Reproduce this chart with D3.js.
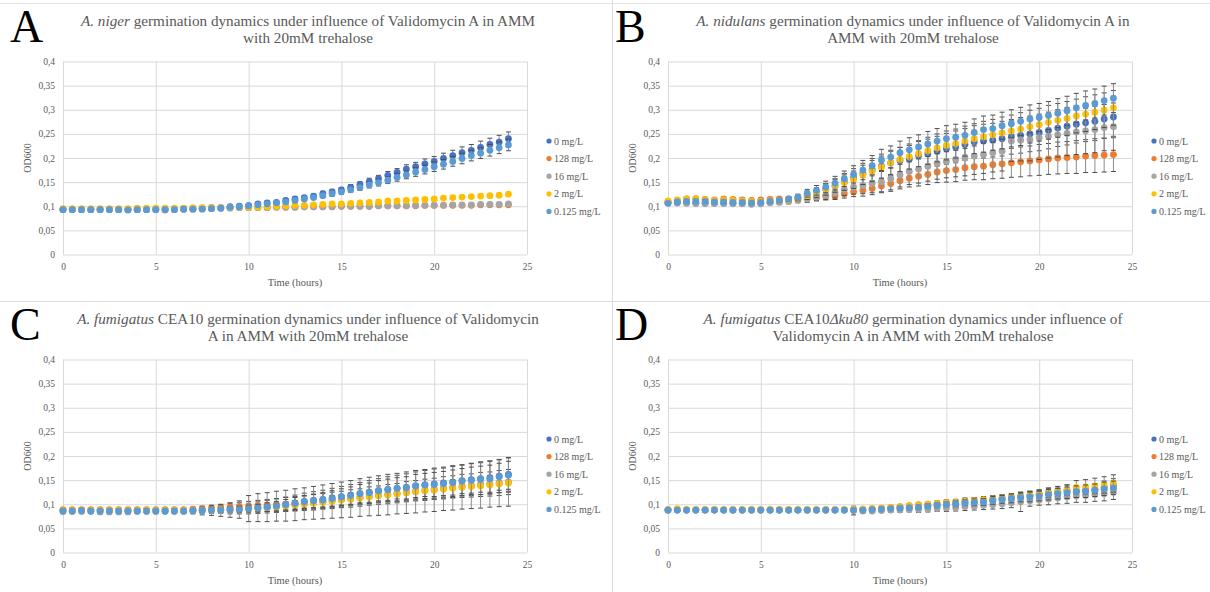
<!DOCTYPE html>
<html>
<head>
<meta charset="utf-8">
<script src="https://cdnjs.cloudflare.com/ajax/libs/d3/7.8.5/d3.min.js"></script>
<style>
body { margin: 0; background: #fff; }
svg text { font-family: "Liberation Serif", "Times New Roman", serif; }
.grid line { stroke: #d9d9d9; stroke-width: 1; }
.grid text { fill: #595959; font-size: 9.5px; }
.grid .domain { display: none; }
</style>
</head>
<body>
<script>
(function(){

//sampling times, hours
var hours = [0,0.5,1,1.5,2,2.5,3,3.5,4,4.5,5,5.5,6,6.5,7,7.5,8,8.5,9,9.5,
             10,10.5,11,11.5,12,12.5,13,13.5,14,14.5,15,15.5,16,16.5,17,17.5,18,18.5,19,19.5,
             20,20.5,21,21.5,22,22.5,23,23.5,24];
var doses = ["0 mg/L", "128 mg/L", "16 mg/L", "2 mg/L", "0.125 mg/L"];
var doseColors = ["#4472C4", "#ED7D31", "#A5A5A5", "#FFC000", "#5B9BD5"];
var yTicks = [0, 0.05, 0.1, 0.15, 0.2, 0.25, 0.3, 0.35, 0.4];
var xTicks = [0, 5, 10, 15, 20, 25];

//A. niger (order of doses)
var nigerMeans = [
 [.093,.093,.093,.093,.093,.094,.093,.093,.093,.093, .094,.094,.094,.095,.095,.096,.097,.097,.099,.100,
  .101,.105,.107,.108,.112,.115,.118,.121,.126,.130, .134,.139,.145,.151,.157,.164,.170,.177,.182,.188,
  .193,.199,.205,.211,.216,.222,.228,.233,.240],
 [.094,.094,.094,.094,.094,.094,.094,.094,.094,.094, .094,.092,.094,.094,.095,.095,.096,.096,.097,.097,
  .097,.097,.097,.098,.098,.098,.099,.099,.099,.099, .100,.100,.100,.100,.101,.101,.101,.101,.101,.102,
  .102,.102,.102,.102,.102,.103,.103,.103,.103],
 [.093,.093,.093,.093,.093,.093,.093,.093,.093,.093, .093,.093,.093,.094,.094,.095,.095,.096,.096,.097,
  .097,.097,.097,.098,.098,.098,.099,.099,.099,.099, .100,.100,.100,.100,.101,.101,.101,.101,.102,.102,
  .102,.102,.103,.103,.103,.104,.104,.104,.105],
 [.095,.095,.095,.095,.095,.095,.095,.095,.096,.096, .096,.096,.096,.096,.097,.097,.097,.097,.098,.098,
  .098,.098,.099,.100,.101,.102,.102,.103,.104,.105, .105,.106,.107,.108,.109,.111,.111,.112,.113,.114,
  .115,.117,.118,.119,.120,.121,.122,.123,.125],
 [.093,.093,.093,.093,.093,.093,.093,.092,.093,.093, .093,.093,.093,.094,.094,.094,.095,.096,.098,.099,
  .101,.103,.105,.107,.109,.112,.115,.118,.122,.126, .130,.134,.139,.144,.149,.154,.160,.165,.171,.176,
  .182,.187,.193,.199,.205,.210,.216,.221,.227]
];
var nigerErrors = [
 [.002,.002,.002,.002,.002,.002,.002,.002,.002,.002, .002,.002,.002,.002,.002,.002,.002,.002,.002,.002,
  .003,.003,.003,.003,.004,.004,.004,.004,.005,.005, .005,.006,.006,.007,.007,.008,.008,.009,.009,.010,
  .010,.011,.011,.012,.012,.013,.013,.014,.014],
 [.002,.002,.002,.002,.002,.002,.002,.002,.002,.002, .002,.002,.002,.002,.002,.002,.002,.002,.002,.002,
  .002,.002,.002,.002,.002,.002,.002,.002,.002,.002, .002,.002,.002,.002,.002,.002,.002,.002,.002,.002,
  .002,.002,.002,.002,.002,.002,.002,.002,.002],
 [.002,.002,.002,.002,.002,.002,.002,.002,.002,.002, .002,.002,.002,.002,.002,.002,.002,.002,.002,.002,
  .002,.002,.002,.002,.002,.002,.002,.002,.002,.002, .002,.002,.002,.002,.002,.002,.002,.002,.002,.002,
  .002,.002,.002,.002,.002,.002,.002,.002,.002],
 [.002,.002,.002,.002,.002,.002,.002,.002,.002,.002, .002,.002,.002,.002,.002,.002,.002,.002,.002,.002,
  .002,.002,.002,.002,.002,.002,.002,.002,.002,.002, .003,.003,.003,.003,.003,.003,.003,.003,.003,.003,
  .003,.003,.003,.003,.003,.003,.003,.003,.003],
 [.002,.002,.002,.002,.002,.002,.002,.002,.002,.002, .002,.002,.002,.002,.002,.002,.002,.002,.002,.002,
  .003,.003,.003,.003,.003,.004,.004,.004,.004,.005, .005,.005,.006,.006,.007,.007,.008,.008,.009,.009,
  .010,.010,.010,.011,.011,.011,.012,.012,.012]
];

//A. nidulans
var nidulansMeans = [
 [.107,.107,.107,.106,.106,.106,.106,.106,.106,.105, .106,.108,.110,.113,.117,.122,.128,.135,.142,.151,
  .159,.168,.176,.183,.190,.195,.198,.205,.209,.214, .219,.223,.228,.233,.235,.237,.240,.244,.247,.250,
  .253,.257,.262,.266,.270,.273,.276,.281,.285],
 [.110,.112,.115,.116,.114,.113,.115,.114,.113,.112, .113,.114,.115,.115,.116,.117,.118,.120,.122,.126,
  .130,.133,.137,.142,.147,.153,.158,.162,.166,.171, .174,.176,.180,.182,.183,.186,.188,.190,.192,.194,
  .196,.198,.200,.201,.202,.204,.205,.206,.207],
 [.108,.107,.106,.106,.106,.106,.106,.105,.105,.104, .105,.107,.108,.110,.113,.115,.119,.123,.128,.135,
  .140,.143,.147,.151,.157,.165,.172,.177,.183,.189, .193,.197,.200,.204,.207,.211,.214,.235,.237,.238,
  .242,.245,.248,.251,.254,.256,.259,.263,.265],
 [.111,.113,.115,.115,.113,.112,.113,.112,.111,.110, .110,.111,.112,.114,.117,.122,.128,.135,.143,.149,
  .155,.165,.173,.181,.190,.197,.203,.209,.215,.221, .226,.230,.235,.240,.244,.248,.252,.256,.260,.265,
  .269,.274,.278,.282,.287,.291,.295,.299,.304],
 [.106,.109,.110,.110,.110,.109,.109,.108,.108,.107, .108,.110,.112,.115,.119,.127,.133,.140,.148,.157,
  .166,.175,.184,.196,.202,.211,.217,.223,.229,.235, .240,.243,.247,.253,.259,.261,.267,.271,.276,.281,
  .284,.288,.293,.298,.304,.309,.313,.319,.324]
];
var nidulansErrors = [
 [.003,.003,.003,.003,.003,.003,.003,.003,.003,.003, .003,.003,.004,.005,.006,.008,.010,.012,.014,.017,
  .019,.021,.023,.025,.026,.027,.028,.029,.030,.031, .032,.033,.033,.034,.035,.035,.036,.036,.037,.037,
  .038,.038,.038,.039,.039,.039,.040,.040,.040],
 [.004,.004,.004,.004,.004,.004,.004,.004,.004,.004, .004,.004,.004,.004,.005,.005,.006,.007,.008,.009,
  .010,.012,.013,.014,.016,.017,.018,.020,.021,.022, .024,.025,.026,.027,.028,.029,.030,.030,.031,.031,
  .032,.032,.033,.033,.034,.034,.035,.035,.035],
 [.003,.003,.003,.003,.003,.003,.003,.003,.003,.003, .003,.003,.004,.005,.006,.007,.008,.009,.011,.013,
  .015,.017,.019,.021,.023,.025,.027,.029,.031,.033, .034,.036,.037,.038,.039,.040,.041,.042,.043,.044,
  .045,.045,.046,.046,.047,.047,.048,.048,.049],
 [.003,.003,.003,.003,.003,.003,.003,.003,.003,.003, .003,.003,.004,.005,.006,.008,.010,.012,.014,.016,
  .018,.020,.022,.023,.024,.025,.026,.027,.028,.029, .030,.030,.031,.031,.032,.032,.033,.033,.034,.034,
  .034,.035,.035,.035,.035,.036,.036,.036,.036],
 [.003,.003,.003,.003,.003,.003,.003,.003,.003,.003, .003,.003,.004,.005,.006,.008,.010,.012,.014,.016,
  .018,.020,.021,.022,.023,.024,.025,.025,.026,.026, .027,.027,.027,.028,.028,.028,.028,.029,.029,.029,
  .029,.029,.030,.030,.030,.030,.030,.030,.030]
];

//A. fumigatus CEA10
var cea10Means = [
 [.087,.087,.087,.087,.087,.087,.087,.087,.087,.087, .087,.087,.087,.087,.087,.088,.088,.089,.089,.090,
  .091,.093,.095,.097,.100,.103,.106,.108,.110,.113, .116,.119,.122,.125,.128,.131,.133,.135,.138,.140,
  .142,.144,.146,.149,.151,.153,.155,.158,.162],
 [.089,.089,.089,.089,.089,.089,.089,.089,.089,.089, .089,.089,.089,.089,.090,.091,.092,.093,.094,.095,
  .096,.097,.098,.099,.100,.101,.102,.104,.106,.108, .110,.112,.114,.117,.119,.121,.123,.126,.128,.130,
  .132,.134,.136,.138,.139,.141,.142,.144,.146],
 [.085,.085,.085,.085,.084,.084,.084,.084,.085,.085, .085,.085,.085,.085,.086,.086,.087,.087,.088,.089,
  .091,.093,.094,.096,.097,.099,.101,.103,.105,.107, .109,.111,.114,.116,.118,.120,.122,.124,.126,.128,
  .130,.132,.134,.136,.138,.140,.142,.144,.146],
 [.088,.088,.088,.088,.088,.088,.088,.088,.088,.088, .088,.088,.088,.088,.088,.088,.088,.089,.089,.090,
  .090,.091,.092,.094,.096,.098,.100,.102,.104,.106, .109,.111,.113,.115,.118,.119,.121,.124,.126,.128,
  .129,.131,.133,.135,.137,.138,.140,.142,.144],
 [.086,.086,.087,.086,.086,.086,.086,.086,.086,.086, .086,.086,.086,.086,.087,.087,.088,.088,.089,.089,
  .091,.092,.094,.096,.099,.102,.105,.107,.109,.112, .115,.118,.122,.124,.128,.130,.133,.134,.138,.140,
  .141,.143,.145,.148,.150,.152,.153,.157,.160]
];
var cea10Errors = [
 [.004,.004,.004,.004,.004,.004,.004,.004,.004,.004, .004,.004,.004,.004,.005,.006,.007,.008,.009,.010,
  .011,.012,.013,.014,.015,.016,.017,.018,.019,.020, .021,.022,.023,.024,.025,.026,.027,.028,.029,.030,
  .031,.031,.032,.032,.033,.033,.034,.034,.035],
 [.003,.003,.003,.003,.003,.003,.003,.003,.003,.003, .003,.003,.003,.003,.004,.005,.006,.007,.008,.009,
  .010,.011,.012,.013,.014,.015,.015,.016,.016,.017, .017,.018,.018,.019,.019,.020,.020,.021,.021,.022,
  .022,.023,.023,.024,.024,.025,.025,.026,.026],
 [.004,.004,.004,.004,.004,.004,.004,.004,.004,.004, .004,.004,.004,.004,.006,.008,.010,.012,.015,.018,
  .027,.029,.030,.031,.032,.033,.033,.034,.035,.036, .037,.038,.039,.040,.041,.042,.042,.043,.044,.044,
  .045,.045,.046,.046,.047,.048,.048,.049,.050],
 [.003,.003,.003,.003,.003,.003,.003,.003,.003,.003, .003,.003,.003,.003,.003,.004,.004,.005,.005,.006,
  .006,.007,.007,.008,.008,.009,.009,.010,.010,.011, .011,.012,.012,.013,.013,.014,.014,.015,.015,.016,
  .016,.016,.017,.017,.017,.018,.018,.018,.019],
 [.003,.003,.003,.003,.003,.003,.003,.003,.003,.003, .003,.003,.003,.003,.003,.004,.004,.005,.005,.006,
  .007,.008,.009,.010,.011,.012,.013,.014,.015,.016, .017,.018,.019,.020,.021,.022,.022,.023,.024,.024,
  .025,.025,.026,.026,.027,.027,.028,.028,.029]
];

//A. fumigatus CEA10 delta ku80
var ku80Means = [
 [.088,.088,.088,.088,.088,.088,.088,.088,.088,.088, .088,.088,.088,.088,.088,.088,.088,.088,.088,.088,
  .088,.088,.089,.090,.091,.092,.093,.094,.096,.097, .099,.101,.103,.104,.106,.108,.110,.112,.115,.118,
  .121,.124,.127,.129,.128,.129,.131,.135,.140],
 [.089,.089,.089,.089,.089,.089,.089,.089,.089,.089, .089,.089,.089,.089,.089,.089,.089,.089,.089,.089,
  .089,.090,.091,.092,.093,.095,.097,.099,.100,.102, .104,.105,.107,.108,.110,.111,.113,.115,.117,.118,
  .120,.121,.123,.124,.125,.126,.128,.130,.132],
 [.088,.088,.088,.088,.088,.088,.088,.088,.088,.088, .088,.088,.088,.088,.088,.088,.088,.088,.088,.088,
  .087,.086,.086,.087,.088,.088,.089,.089,.090,.091, .092,.093,.095,.096,.098,.099,.101,.103,.105,.107,
  .109,.111,.113,.115,.117,.118,.120,.122,.125],
 [.089,.091,.089,.089,.089,.089,.089,.089,.089,.089, .089,.089,.089,.089,.089,.089,.089,.089,.089,.089,
  .090,.090,.091,.092,.094,.095,.097,.098,.100,.101, .103,.104,.106,.107,.109,.111,.113,.115,.117,.119,
  .121,.123,.126,.129,.135,.136,.138,.140,.143],
 [.088,.088,.088,.088,.088,.088,.088,.088,.088,.088, .088,.088,.088,.088,.088,.088,.088,.088,.088,.088,
  .088,.088,.089,.090,.091,.092,.093,.094,.096,.098, .100,.101,.103,.104,.105,.108,.110,.112,.114,.115,
  .117,.120,.122,.124,.126,.127,.129,.132,.134]
];
var ku80Errors = [
 [.001,.001,.001,.001,.001,.001,.001,.001,.001,.001, .001,.001,.001,.001,.001,.001,.001,.001,.001,.001,
  .002,.002,.002,.003,.003,.003,.003,.004,.004,.004, .005,.005,.005,.006,.006,.007,.007,.008,.008,.009,
  .009,.010,.010,.011,.011,.012,.012,.013,.013],
 [.001,.001,.001,.001,.001,.001,.001,.001,.001,.001, .001,.001,.001,.001,.001,.001,.001,.001,.001,.001,
  .002,.002,.002,.003,.003,.003,.004,.004,.004,.005, .005,.005,.006,.006,.006,.007,.007,.007,.008,.008,
  .008,.009,.009,.009,.010,.010,.010,.011,.011],
 [.001,.001,.001,.001,.001,.001,.001,.001,.001,.001, .001,.001,.001,.001,.001,.001,.001,.001,.001,.001,
  .009,.004,.004,.004,.005,.005,.005,.006,.006,.006, .007,.007,.008,.008,.009,.009,.010,.010,.020,.011,
  .011,.012,.012,.013,.013,.014,.014,.015,.015],
 [.001,.001,.001,.001,.001,.001,.001,.001,.001,.001, .001,.001,.001,.001,.001,.001,.001,.001,.001,.001,
  .002,.002,.002,.002,.003,.003,.003,.003,.004,.004, .004,.005,.005,.005,.006,.006,.006,.007,.007,.008,
  .008,.009,.010,.011,.014,.015,.016,.017,.018],
 [.001,.001,.001,.001,.001,.001,.001,.001,.001,.001, .001,.001,.001,.001,.001,.001,.001,.001,.001,.001,
  .002,.002,.003,.003,.003,.004,.004,.004,.005,.005, .005,.006,.006,.007,.007,.008,.008,.009,.009,.010,
  .010,.011,.011,.012,.012,.013,.013,.014,.014]
];

//panel set up: title lines are lists of [text, italic] pieces
var panels = [
    {letter: "A", left: 0, top: 0, means: nigerMeans, errors: nigerErrors,
     title: [[["A. niger", true], [" germination dynamics under influence of Validomycin A in AMM", false]],
             [["with 20mM trehalose", false]]]},
    {letter: "B", left: 605, top: 0, means: nidulansMeans, errors: nidulansErrors,
     title: [[["A. nidulans", true], [" germination dynamics under influence of Validomycin A in", false]],
             [["AMM with 20mM trehalose", false]]]},
    {letter: "C", left: 0, top: 298, means: cea10Means, errors: cea10Errors,
     title: [[["A. fumigatus", true], [" CEA10 germination dynamics under influence of Validomycin", false]],
             [["A in AMM with 20mM trehalose", false]]]},
    {letter: "D", left: 605, top: 298, means: ku80Means, errors: ku80Errors,
     title: [[["A. fumigatus", true], [" CEA10", false], ["\u0394ku80", true], [" germination dynamics under influence of", false]],
             [["Validomycin A in AMM with 20mM trehalose", false]]]}
];

var width = 1210, height = 592;

var svg = d3.select("body")
    .append("svg")
    .attr("width", width)
    .attr("height", height);

svg.append("rect").attr("width", width).attr("height", height).attr("fill", "#fff");

//panel separators
svg.append("line").attr("x1", 0).attr("x2", width).attr("y1", 3.5).attr("y2", 3.5)
    .attr("stroke", "#e3e3e3");
svg.append("line").attr("x1", 0).attr("x2", width).attr("y1", 301.5).attr("y2", 301.5)
    .attr("stroke", "#dcdcdc");
svg.append("line").attr("x1", 612.5).attr("x2", 612.5).attr("y1", 0).attr("y2", height)
    .attr("stroke", "#dcdcdc");

panels.forEach(drawPanel);

function commaFormat(d){
    return String(+d.toFixed(2)).replace(".", ",");
}

function drawPanel(p){
    var g = svg.append("g")
        .attr("transform", "translate(" + p.left + "," + p.top + ")");

    var plotLeft = 63, plotRight = 527, plotTop = 61.5, plotBottom = 254.5;

    var x = d3.scaleLinear().domain([0, 25]).range([plotLeft, plotRight]);
    var y = d3.scaleLinear().domain([0, 0.4]).range([plotBottom, plotTop]);

    //horizontal gridlines + y labels
    g.append("g")
        .attr("class", "grid")
        .attr("transform", "translate(" + plotLeft + ",0)")
        .call(d3.axisLeft(y).tickValues(yTicks).tickSize(-(plotRight - plotLeft))
            .tickPadding(8).tickFormat(commaFormat));

    //vertical gridlines + x labels
    g.append("g")
        .attr("class", "grid")
        .attr("transform", "translate(0," + plotBottom + ")")
        .call(d3.axisBottom(x).tickValues(xTicks).tickSize(-(plotBottom - plotTop))
            .tickPadding(9).tickFormat(d3.format("d")));

    //big panel letter
    g.append("text")
        .attr("x", 10)
        .attr("y", 41.5)
        .attr("font-size", "46px")
        .attr("fill", "#000")
        .text(p.letter);

    //title
    var title = g.append("text")
        .attr("text-anchor", "middle")
        .attr("font-size", "15.2px")
        .attr("fill", "#595959");
    p.title.forEach(function(line, li){
        line.forEach(function(piece, pi){
            var ts = title.append("tspan").text(piece[0]);
            if (pi === 0){
                ts.attr("x", 308).attr("y", 25.5 + li * 17.2);
            }
            if (piece[1]) ts.attr("font-style", "italic");
        });
    });

    //axis titles
    g.append("text")
        .attr("transform", "translate(31," + ((plotTop + plotBottom) / 2) + ") rotate(-90)")
        .attr("text-anchor", "middle")
        .attr("font-size", "10px")
        .attr("fill", "#595959")
        .text("OD600");

    g.append("text")
        .attr("x", (plotLeft + plotRight) / 2)
        .attr("y", 286)
        .attr("text-anchor", "middle")
        .attr("font-size", "10.5px")
        .attr("fill", "#595959")
        .text("Time (hours)");

    //series: error bars first, then markers
    doses.forEach(function(dose, si){
        var pts = hours.map(function(h, i){
            return {t: h, v: p.means[si][i], e: p.errors[si][i]};
        });
        var s = g.append("g").attr("class", "series s" + si);

        var eb = s.selectAll(".err")
            .data(pts)
            .enter()
            .append("g")
            .attr("class", "err");
        eb.append("line")
            .attr("x1", function(d){ return x(d.t); })
            .attr("x2", function(d){ return x(d.t); })
            .attr("y1", function(d){ return y(d.v - d.e); })
            .attr("y2", function(d){ return y(d.v + d.e); })
            .attr("stroke", "#8c8c8c")
            .attr("stroke-width", 1);
        [-1, 1].forEach(function(sign){
            eb.append("line")
                .attr("x1", function(d){ return x(d.t) - 2.5; })
                .attr("x2", function(d){ return x(d.t) + 2.5; })
                .attr("y1", function(d){ return y(d.v + sign * d.e); })
                .attr("y2", function(d){ return y(d.v + sign * d.e); })
                .attr("stroke", "#4d4d4d")
                .attr("stroke-width", 1);
        });

        s.selectAll(".dot")
            .data(pts)
            .enter()
            .append("circle")
            .attr("class", "dot")
            .attr("cx", function(d){ return x(d.t); })
            .attr("cy", function(d){ return y(d.v); })
            .attr("r", 3.4)
            .attr("fill", doseColors[si]);
    });

    //legend
    var legend = g.selectAll(".legend")
        .data(doses)
        .enter()
        .append("g")
        .attr("class", "legend")
        .attr("transform", function(d, i){
            return "translate(549," + (141 + i * 17.6) + ")";
        });
    legend.append("circle")
        .attr("r", 2.6)
        .attr("fill", function(d, i){ return doseColors[i]; });
    legend.append("text")
        .attr("x", 5)
        .attr("y", 3.5)
        .attr("font-size", "10px")
        .attr("fill", "#595959")
        .text(function(d){ return d; });
}

})();
</script>
</body>
</html>
